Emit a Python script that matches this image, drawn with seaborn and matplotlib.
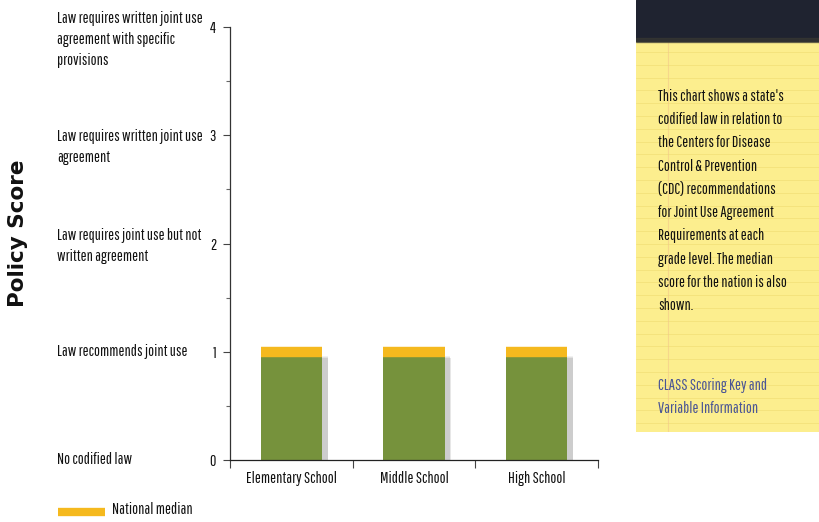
import matplotlib
matplotlib.use("Agg")
import matplotlib.pyplot as plt
from matplotlib import font_manager, transforms
from matplotlib.font_manager import FontProperties
from matplotlib.lines import Line2D
from matplotlib.textpath import TextPath
import numpy as np
import pandas as pd
import seaborn as sns

# ---- data -------------------------------------------------------------
grade_levels = ["Elementary School", "Middle School", "High School"]
state_scores = [1, 1, 1]
national_median = [1, 1, 1]
score_ticks = [0, 1, 2, 3, 4]
score_labels = [
    "No codified law",
    "Law recommends joint use",
    "Law requires joint use but not\nwritten agreement",
    "Law requires written joint use\nagreement",
    "Law requires written joint use\nagreement with specific\nprovisions",
]
note_text = ("This chart shows a state's\ncodified law in relation to\n"
             "the Centers for Disease\nControl & Prevention\n"
             "(CDC) recommendations\nfor Joint Use Agreement\n"
             "Requirements at each\ngrade level. The median\n"
             "score for the nation is also\nshown.")
link_text = "CLASS Scoring Key and\nVariable Information"

df = pd.DataFrame({"grade": grade_levels, "score": state_scores,
                   "median": national_median})

sns.set_theme(style="white")
available = {f.name for f in font_manager.fontManager.ttflist}
narrow = next((f for f in ["Pathway Gothic One", "Sofia Sans Extra Condensed",
                           "Antonio", "Encode Sans Compressed",
                           "Barlow Condensed", "Fira Sans Extra Condensed",
                           "Roboto Condensed", "Archivo Narrow",
                           "Liberation Sans"] if f in available), "DejaVu Sans")
plt.rcParams["font.family"] = [narrow, "DejaVu Sans"]

W, H = 819, 522
fig = plt.figure(figsize=(W / 100, H / 100), dpi=100)
fig.patch.set_facecolor("white")
renderer = fig.canvas.get_renderer()

# type size: a full label line ~145 px wide, capitals at most ~14 px tall
probe = fig.text(0, 0, "Law requires written joint use", fontsize=20)
w20 = probe.get_window_extent(renderer).width
probe.remove()
cap20 = TextPath((0, 0), "L", size=20,
                 prop=FontProperties(family=narrow)).get_extents().height
cap20_px = cap20 * 100 / 72
FS = float(np.clip(min(20 * 145 / w20, 20 * 14 / cap20_px), 9, 18))


def line_factor(step_px):
    """linespacing that gives consecutive baselines step_px apart"""
    one = fig.text(0, 0, "Ag", fontsize=FS, linespacing=1.0)
    two = fig.text(0, 0, "Ag\nAg", fontsize=FS, linespacing=1.0)
    h1 = one.get_window_extent(renderer).height
    h2 = two.get_window_extent(renderer).height
    one.remove()
    two.remove()
    return step_px / max(h2 - h1, 1)


LS_LEFT = line_factor(22.5)
LS_NOTE = line_factor(25.4)

BAR_GREEN = "#76923c"
MEDIAN_GOLD = "#f5b91e"

ax = fig.add_axes([230 / W, (H - 460) / H, (598 - 230) / W, (460 - 27) / H])
ax.set_facecolor("white")

# soft drop shadow behind each bar
for k, a in enumerate([0.08, 0.10, 0.14]):
    off = transforms.offset_copy(ax.transData, fig=fig, x=3 + k * 0.6,
                                 y=-3 - k * 0.6, units="points")
    for i, v in enumerate(df["score"]):
        ax.bar(i, v, width=0.5 + 0.012 * (2 - k), color="#555555", alpha=a,
               transform=off, zorder=1, linewidth=0)

sns.barplot(data=df, x="grade", y="score", color=BAR_GREEN, width=0.5,
            saturation=1, ax=ax, zorder=2, linewidth=0)

# national median band over each bar
for i, m in enumerate(df["median"]):
    ax.hlines(m, i - 0.25, i + 0.25, colors=MEDIAN_GOLD, linewidth=7.5,
              zorder=3, capstyle="butt")

ax.set_xlim(-0.5, 2.5)
ax.set_ylim(0, 4)
ax.set_xlabel("")
ax.set_ylabel("")

for side in ["top", "right"]:
    ax.spines[side].set_visible(False)
ax.spines["left"].set_color("#333333")
ax.spines["bottom"].set_color("#222222")
ax.spines["left"].set_linewidth(0.9)
ax.spines["bottom"].set_linewidth(0.9)

# category separators as major x ticks, names on minor ticks
ax.set_xticks([-0.5, 0.5, 1.5, 2.5])
ax.set_xticklabels([])
ax.set_xticks([0, 1, 2], minor=True)
ax.set_xticklabels(grade_levels, minor=True, fontsize=FS, color="#111111")
ax.tick_params(axis="x", which="major", direction="out", length=6,
               width=0.8, color="#444444", bottom=True)
ax.tick_params(axis="x", which="minor", length=0, pad=8, bottom=True)

ax.set_yticks(score_ticks)
ax.set_yticklabels([str(t) for t in score_ticks], fontsize=FS,
                   color="#111111")
ax.set_yticks([0.5, 1.5, 2.5, 3.5], minor=True)
ax.tick_params(axis="y", which="major", direction="out", length=5,
               width=0.8, color="#444444", left=True, pad=5)
ax.tick_params(axis="y", which="minor", direction="out", length=3,
               width=0.8, color="#666666", left=True)

# score descriptions at the left, centred on their rows
label_x = 57 / W
tx = transforms.blended_transform_factory(fig.transFigure, ax.transData)
label_y = [0.0, 1.0, 1.977, 2.89, 3.88]
for y, txt in zip(label_y, score_labels):
    ax.text(label_x, y, txt, transform=tx, ha="left", va="center",
            fontsize=FS, color="#111111", linespacing=LS_LEFT, clip_on=False)

fig.text(18 / W, 1 - 233 / H, "Policy Score", rotation=90, ha="center",
         va="center", fontsize=15.5, fontweight="bold", color="#111111",
         family="DejaVu Sans")

# legend
fig.add_artist(Line2D([58 / W, 105 / W], [1 - 512 / H] * 2,
                      transform=fig.transFigure, color=MEDIAN_GOLD,
                      linewidth=6, solid_capstyle="butt"))
fig.text(112 / W, 1 - 510 / H, "National median", ha="left", va="center",
         fontsize=FS, color="#111111")

# legal-pad note on the right
pad = fig.add_axes([636 / W, (H - 432) / H, (W - 636) / W, 432 / H])
pad.set_xlim(0, 183)
pad.set_ylim(432, 0)
pad.axis("off")
pad.add_patch(plt.Rectangle((0, 0), 183, 432, color="#fcee8e", zorder=0))
for yy in np.arange(52, 432, 12.8):
    pad.axhline(yy, color="#efdc72", linewidth=0.6, alpha=0.7, zorder=1)
pad.axvline(32, color="#f2c88a", linewidth=0.8, alpha=0.6, zorder=1)
pad.add_patch(plt.Rectangle((0, 0), 183, 41, color="#1f2330", zorder=2))
pad.add_patch(plt.Rectangle((0, 38), 183, 4, color="#3a3a33", zorder=2,
                            alpha=0.6))
pad.text(22, 201, note_text, ha="left", va="center", fontsize=FS,
         color="#111111", linespacing=LS_NOTE, zorder=3)
pad.text(22, 397, link_text, ha="left", va="center", fontsize=FS,
         color="#4a5595", linespacing=LS_NOTE, zorder=3)

fig.savefig("out.png", dpi=100, facecolor="white")
